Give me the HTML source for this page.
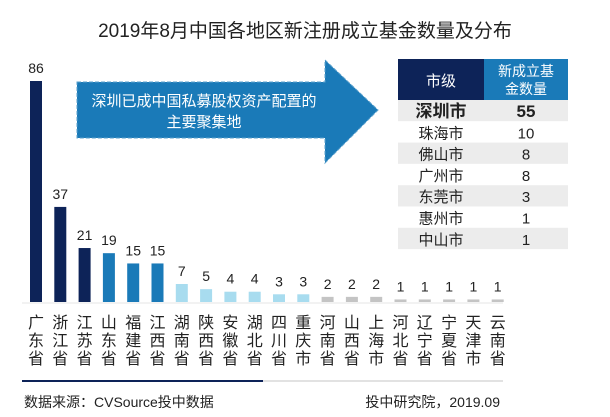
<!DOCTYPE html>
<html><head><meta charset="utf-8"><style>
body{margin:0;background:#fff;}
#c{position:relative;width:610px;height:417px;overflow:hidden;font-family:"Liberation Sans","Noto Sans CJK SC",sans-serif;}
</style></head><body>
<div id="c">
<svg id="s" width="610" height="417" xmlns="http://www.w3.org/2000/svg" font-family="Liberation Sans, Noto Sans CJK SC, sans-serif">
<text x="305" y="37" text-anchor="middle" font-size="19" fill="#222">2019年8月中国各地区新注册成立基金数量及分布</text>
<g>
<polygon points="77,82 325,82 325,60 378,110 325,163 325,138 77,138" fill="#1a7ab8" stroke="#5aa0cc" stroke-dasharray="4,2"/>
<text x="204" y="106" text-anchor="middle" font-size="15" fill="#fff">深圳已成中国私募股权资产配置的</text>
<text x="204" y="127" text-anchor="middle" font-size="15" fill="#fff">主要聚集地</text>
</g>
<g id="bars"></g>
<g id="table"></g>
<line x1="22" y1="303" x2="503" y2="303" stroke="#e6e6e6" stroke-width="1"/>
<line x1="22" y1="381" x2="263" y2="381" stroke="#0d2358" stroke-width="2"/>
<line x1="263" y1="381" x2="503" y2="381" stroke="#e2e2e2" stroke-width="2"/>
<text x="24" y="407" font-size="14" fill="#222">数据来源：CVSource投中数据</text>
<text x="500" y="407" text-anchor="end" font-size="14" fill="#222">投中研究院，2019.09</text>
</svg>
</div>
<script>
const categories=["广东省","浙江省","江苏省","山东省","福建省","江西省","湖南省","陕西省","安徽省","湖北省","四川省","重庆市","河南省","山西省","上海市","河北省","辽宁省","宁夏省","天津市","云南省"];
const values=[86,37,21,19,15,15,7,5,4,4,3,3,2,2,2,1,1,1,1,1];
const cities=["深圳市","珠海市","佛山市","广州市","东莞市","惠州市","中山市"];
const cityValues=[55,10,8,8,3,1,1];
const NS="http://www.w3.org/2000/svg";
const base=302,scale=221/86,x0=36,step=24.3,bw=12;
function xPos(i){return x0+i*step;}
function yH(v){return v*scale;}
function color(i){return i<3?"#0d2358":i<6?"#1a7ab8":i<12?"#a8dcef":"#c4c4c4";}
const g=document.getElementById("bars");
categories.forEach((c,i)=>{
 const h=yH(values[i]),x=xPos(i);
 const r=document.createElementNS(NS,"rect");
 
 
 r.setAttribute("x",x-bw/2);r.setAttribute("y",base-h);r.setAttribute("width",bw);r.setAttribute("height",h);r.setAttribute("fill",color(i));
 g.appendChild(r);
 const t=document.createElementNS(NS,"text");
 
 
 t.setAttribute("x",x);t.setAttribute("y",base-h-8);t.setAttribute("text-anchor","middle");t.setAttribute("font-size","14");t.setAttribute("fill","#222");
 t.textContent=values[i];g.appendChild(t);
 const l=document.createElementNS(NS,"text");
 
 
 l.setAttribute("x",x);l.setAttribute("text-anchor","middle");l.setAttribute("font-size","16");l.setAttribute("fill","#222");
 [...c].forEach((ch,k)=>{
  const s=document.createElementNS(NS,"tspan");
  s.setAttribute("x",x);s.setAttribute("y",328+k*18);
  s.textContent=ch;l.appendChild(s);
 });
 g.appendChild(l);
});
const tb=document.getElementById("table");
function add(tag,attrs,txt){const e=document.createElementNS(NS,tag);for(const k in attrs)e.setAttribute(k,attrs[k]);if(txt!==undefined)e.textContent=txt;tb.appendChild(e);return e;}
let h1=add("rect",{x:398,y:59,width:86,height:41,fill:"#0d2358"});


let h2=add("rect",{x:484,y:59,width:84,height:41,fill:"#1a7ab8"});


add("text",{x:441,y:86,"text-anchor":"middle","font-size":"15",fill:"#fff"},"市级");
add("text",{x:526,y:76,"text-anchor":"middle","font-size":"14",fill:"#fff"},"新成立基");
add("text",{x:526,y:94,"text-anchor":"middle","font-size":"14",fill:"#fff"},"金数量");
cities.forEach((c,i)=>{
 const y=100+i*21.3;
 const r=add("rect",{x:398,y:y,width:170,height:21.3,fill:i%2==0?"#ececec":"#fff"});
 
 
 const b=i==0;
 add("text",{x:441,y:y+17,"text-anchor":"middle","font-size":b?"17":"15","font-weight":b?"bold":"normal",fill:"#222"},c);
 add("text",{x:526,y:y+17,"text-anchor":"middle","font-size":b?"17":"15","font-weight":b?"bold":"normal",fill:"#222"},cityValues[i]);
});
</script>
</body></html>
